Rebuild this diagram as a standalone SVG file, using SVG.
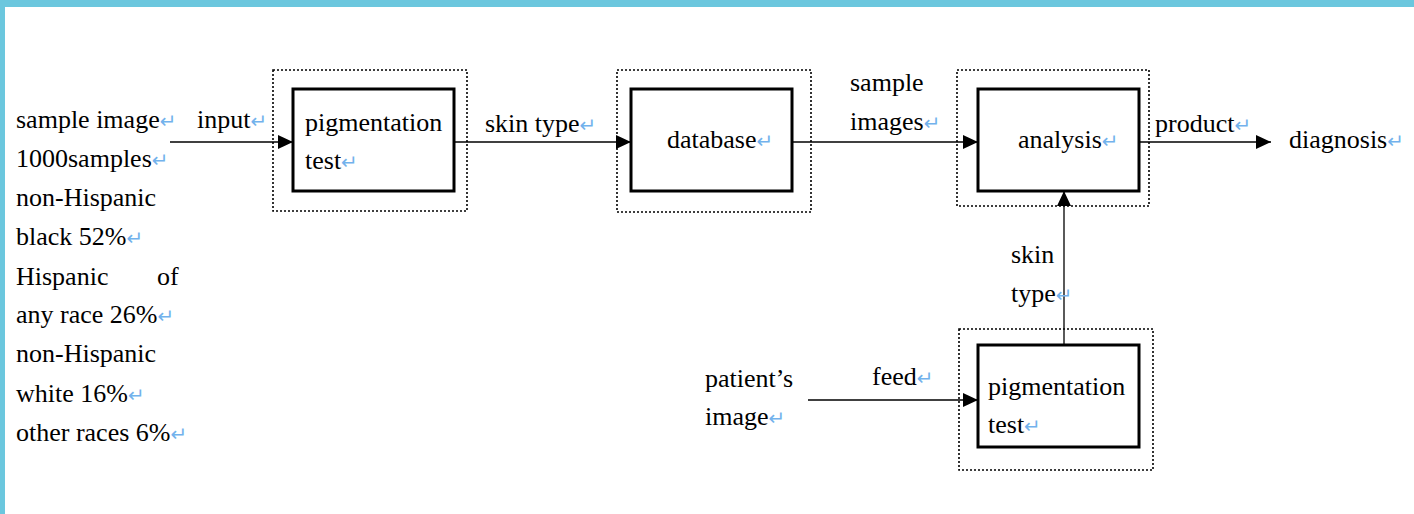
<svg xmlns="http://www.w3.org/2000/svg" width="1414" height="514" viewBox="0 0 1414 514">
<style>
text{font-family:'Liberation Serif','Tinos','Times New Roman','DejaVu Serif',serif;font-size:26px;fill:#000}
.r{font-family:'DejaVu Sans',sans-serif;font-size:20px;fill:#72B2EC}
.outer{fill:none;stroke:#000;stroke-width:1.6;stroke-dasharray:2 2}
.inner{fill:#fff;stroke:#000;stroke-width:3}
.ln{fill:none;stroke:#000;stroke-width:1.3}
</style>
<defs>
<marker id="ah" markerUnits="userSpaceOnUse" markerWidth="16" markerHeight="16" refX="15" refY="8" orient="auto">
<path d="M0,1 L15,8 L0,15 Z" fill="#000"/>
</marker>
</defs>
<rect x="0" y="0" width="1414" height="514" fill="#fff"/>
<rect x="0" y="0" width="1414" height="7" fill="#6BC7DE"/>
<rect x="0" y="0" width="5" height="514" fill="#6BC7DE"/>

<g id="source-text" font-family="Liberation Serif, serif">
<text x="16" y="128">sample image<tspan class="r">↵</tspan></text>
<text x="16" y="167">1000samples<tspan class="r">↵</tspan></text>
<text x="16" y="206">non-Hispanic</text>
<text x="16" y="245">black 52%<tspan class="r">↵</tspan></text>
<text x="16" y="285">Hispanic</text>
<text x="157" y="285">of</text>
<text x="16" y="323">any race 26%<tspan class="r">↵</tspan></text>
<text x="16" y="362">non-Hispanic</text>
<text x="16" y="402">white 16%<tspan class="r">↵</tspan></text>
<text x="16" y="441">other races 6%<tspan class="r">↵</tspan></text>
</g>

<g id="connectors">
<line class="ln" x1="170" y1="142" x2="293" y2="142" marker-end="url(#ah)"/>
<line class="ln" x1="454" y1="142" x2="631" y2="142" marker-end="url(#ah)"/>
<line class="ln" x1="792" y1="142" x2="978" y2="142" marker-end="url(#ah)"/>
<line class="ln" x1="1139" y1="142" x2="1271" y2="142" marker-end="url(#ah)"/>
<line class="ln" x1="1064" y1="345" x2="1064" y2="191" marker-end="url(#ah)"/>
<line class="ln" x1="808" y1="400" x2="978" y2="400" stroke="#555" marker-end="url(#ah)"/>
<text x="197" y="128">input<tspan class="r">↵</tspan></text>
<text x="485" y="132">skin type<tspan class="r">↵</tspan></text>
<text x="850" y="91">sample</text>
<text x="850" y="130">images<tspan class="r">↵</tspan></text>
<text x="1155" y="132">product<tspan class="r">↵</tspan></text>
<text x="1011" y="263">skin</text>
<text x="1011" y="302">type<tspan class="r">↵</tspan></text>
<text x="872" y="385">feed<tspan class="r">↵</tspan></text>
</g>

<g id="pigmentation-test-1">
<rect class="outer" x="273" y="70" width="194" height="141"/>
<rect class="inner" x="293" y="89" width="161" height="102"/>
<text x="305" y="131">pigmentation</text>
<text x="305" y="169">test<tspan class="r">↵</tspan></text>
</g>

<g id="database">
<rect class="outer" x="617" y="70" width="194" height="142"/>
<rect class="inner" x="631" y="89" width="161" height="102"/>
<text x="667" y="148">database<tspan class="r">↵</tspan></text>
</g>

<g id="analysis">
<rect class="outer" x="957" y="70" width="192" height="136"/>
<rect class="inner" x="978" y="89" width="161" height="102"/>
<text x="1018" y="148">analysis<tspan class="r">↵</tspan></text>
</g>

<g id="diagnosis">
<text x="1289" y="148">diagnosis<tspan class="r">↵</tspan></text>
</g>

<g id="pigmentation-test-2">
<rect class="outer" x="959" y="329" width="194" height="141"/>
<rect class="inner" x="978" y="345" width="161" height="102"/>
<text x="988" y="395">pigmentation</text>
<text x="988" y="433">test<tspan class="r">↵</tspan></text>
</g>

<g id="patient-image">
<text x="705" y="387">patient’s</text>
<text x="705" y="425">image<tspan class="r">↵</tspan></text>
</g>
</svg>
